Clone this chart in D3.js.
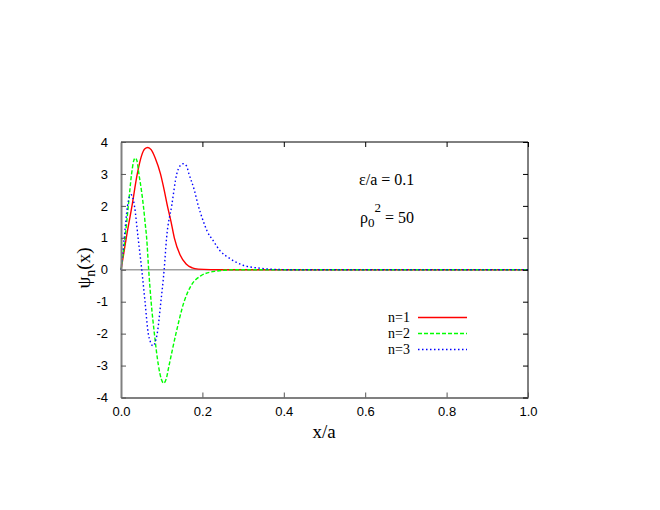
<!DOCTYPE html>
<html>
<head>
<meta charset="utf-8">
<script src="https://cdn.jsdelivr.net/npm/d3@7"></script>
<style>
  body { margin: 0; background: #fff; }
  svg { display: block; }
</style>
</head>
<body>
<svg id="chart" width="660" height="510"></svg>
<script>
// ---- data ----
const xTicks = [0.0, 0.2, 0.4, 0.6, 0.8, 1.0];
const yTicks = [-4, -3, -2, -1, 0, 1, 2, 3, 4];
const seriesNames = ["n=1", "n=2", "n=3"];

const n1x = [0, 0.006, 0.013, 0.027, 0.040, 0.050, 0.058, 0.066, 0.074, 0.084, 0.097, 0.106, 0.114, 0.123, 0.131, 0.145, 0.160, 0.175, 0.190, 0.220, 0.260, 1.0];
const n1y = [0, 0.45, 1.0, 2.0, 3.0, 3.55, 3.78, 3.83, 3.76, 3.5, 3.0, 2.5, 2.0, 1.5, 1.0, 0.47, 0.18, 0.06, 0.02, 0.003, 0, 0];

const n2x = [0, 0.010, 0.018, 0.026, 0.031, 0.035, 0.039, 0.044, 0.050, 0.055, 0.059, 0.063, 0.068, 0.074, 0.082, 0.092, 0.099, 0.105, 0.111, 0.118, 0.135, 0.155, 0.172, 0.195, 0.230, 0.280, 1.0];
const n2y = [0, 1.0, 2.0, 3.0, 3.4, 3.5, 3.42, 3.0, 2.5, 2.0, 1.5, 1.0, 0, -1.0, -2.0, -3.0, -3.42, -3.55, -3.42, -3.0, -2.0, -1.0, -0.5, -0.2, -0.05, 0, 0];

const n3x = [0, 0.008, 0.016, 0.021, 0.025, 0.029, 0.033, 0.042, 0.051, 0.059, 0.067, 0.072, 0.077, 0.080, 0.083, 0.089, 0.098, 0.106, 0.112, 0.1245, 0.137, 0.145, 0.153, 0.161, 0.167, 0.180, 0.190, 0.200, 0.212, 0.227, 0.243, 0.268, 0.300, 0.340, 0.380, 0.420, 1.0];
const n3y = [0, 1.0, 2.0, 2.3, 2.35, 2.25, 2.0, 1.0, 0, -1.0, -2.0, -2.25, -2.37, -2.38, -2.3, -2.0, -1.0, 0, 1.0, 2.0, 3.0, 3.25, 3.32, 3.25, 3.0, 2.5, 2.0, 1.6, 1.2, 0.9, 0.6, 0.35, 0.14, 0.05, 0.01, 0, 0];

const colors = ["#ff0000", "#00ff00", "#0000ff"];
const dashes = [null, "4,2", "1.5,2.5"];

// ---- layout ----
const svg = d3.select("#chart");
const L = 121, R = 528, T = 142, B = 397.5;
const x = d3.scaleLinear().domain([0, 1]).range([L, R]);
const y = d3.scaleLinear().domain([-4, 4]).range([B, T]);

const series = [
  n1x.map((v, i) => [v, n1y[i]]),
  n2x.map((v, i) => [v, n2y[i]]),
  n3x.map((v, i) => [v, n3y[i]])
];

// zero line
svg.append("line")
  .attr("x1", x(0)).attr("x2", x(1)).attr("y1", y(0)).attr("y2", y(0))
  .attr("stroke", "#a0a0a0").attr("stroke-width", 1.5);

// curves
const line = d3.line().x(d => x(d[0])).y(d => y(d[1])).curve(d3.curveMonotoneX);
series.forEach((s, i) => {
  svg.append("path").datum(s)
    .attr("d", line)
    .attr("fill", "none")
    .attr("stroke", colors[i])
    .attr("stroke-width", 1.4)
    .attr("stroke-dasharray", dashes[i]);
});

// border: top/right black, left/bottom gray
svg.append("line").attr("x1", L).attr("x2", R).attr("y1", T).attr("y2", T).attr("stroke", "#000").attr("stroke-width", 1);
svg.append("line").attr("x1", R).attr("x2", R).attr("y1", T).attr("y2", B).attr("stroke", "#000").attr("stroke-width", 1);

// axes via d3
const axisFont = "'Liberation Sans', Arial, Helvetica, sans-serif";
const bottomAxis = d3.axisBottom(x).tickValues(xTicks).tickFormat(d3.format(".1f")).tickSizeInner(-5).tickSizeOuter(0).tickPadding(9);
const gB = svg.append("g").attr("transform", `translate(0,${B})`).call(bottomAxis);
const topAxis = d3.axisTop(x).tickValues(xTicks).tickFormat("").tickSizeInner(-5).tickSizeOuter(0);
const gT = svg.append("g").attr("transform", `translate(0,${T})`).call(topAxis);
const leftAxis = d3.axisLeft(y).tickValues(yTicks).tickFormat(d => d < 0 ? "-" + Math.abs(d) : String(d)).tickSizeInner(-5).tickSizeOuter(0).tickPadding(13);
const gL = svg.append("g").attr("transform", `translate(${L},0)`).call(leftAxis);
const rightAxis = d3.axisRight(y).tickValues(yTicks).tickFormat("").tickSizeInner(-5).tickSizeOuter(0);
const gR = svg.append("g").attr("transform", `translate(${R},0)`).call(rightAxis);

[gB, gL].forEach(g => {
  g.select(".domain").attr("stroke", "#808080").attr("stroke-width", 2);
  g.selectAll(".tick line").attr("stroke", "#555").attr("stroke-width", 1);
  g.selectAll(".tick text").attr("font-family", axisFont).attr("font-size", 13).attr("fill", "#000");
});
[gT, gR].forEach(g => {
  g.select(".domain").remove();
  g.selectAll(".tick line").attr("stroke", "#000").attr("stroke-width", 1);
});
gB.selectAll(".tick text").attr("dy", "0.71em");

// axis titles
const serif = "'Liberation Serif', 'Times New Roman', Times, serif";
svg.append("text").attr("x", 324).attr("y", 438)
  .attr("text-anchor", "middle").attr("font-family", serif).attr("font-size", 19)
  .text("x/a");

const yt = svg.append("text")
  .attr("transform", "translate(90,268) rotate(-90)")
  .attr("text-anchor", "middle").attr("font-family", serif).attr("font-size", 19);
yt.append("tspan").text("ψ");
yt.append("tspan").attr("font-size", 14).attr("dy", 5).text("n");
yt.append("tspan").attr("dy", -5).text("(x)");

// annotations
svg.append("text").attr("x", 359).attr("y", 185)
  .attr("font-family", serif).attr("font-size", 16).text("ε/a = 0.1");
const rho = svg.append("text").attr("x", 360).attr("y", 223)
  .attr("font-family", serif).attr("font-size", 16);
rho.append("tspan").text("ρ");
rho.append("tspan").attr("font-size", 13).attr("dy", 4).text("0");
rho.append("tspan").attr("font-size", 13).attr("dy", -15).text("2");
rho.append("tspan").attr("dy", 11).text(" = 50");

// legend
const legY = [317.5, 333.5, 349.5];
seriesNames.forEach((name, i) => {
  svg.append("text").attr("x", 410).attr("y", legY[i] + 4.5)
    .attr("text-anchor", "end").attr("font-family", serif).attr("font-size", 14)
    .text(name);
  svg.append("line")
    .attr("x1", 418).attr("x2", 467).attr("y1", legY[i]).attr("y2", legY[i])
    .attr("stroke", colors[i]).attr("stroke-width", 1.4)
    .attr("stroke-dasharray", dashes[i]);
});
</script>
</body>
</html>
